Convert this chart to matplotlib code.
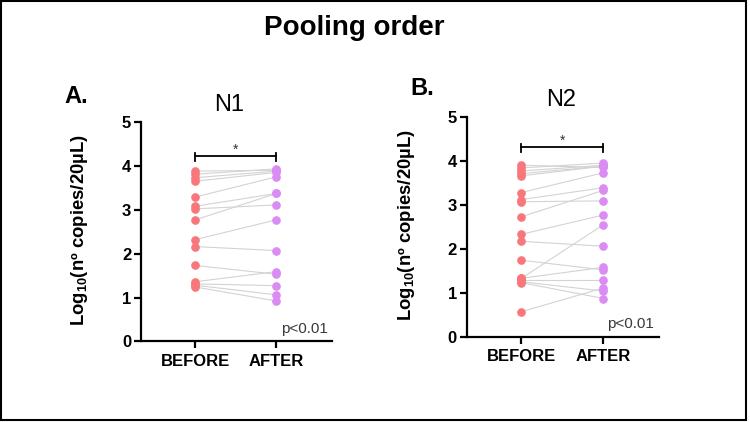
import matplotlib
matplotlib.use("Agg")
import matplotlib.pyplot as plt
from matplotlib.patches import Rectangle

plt.rcParams["font.family"] = ["Liberation Sans", "DejaVu Sans"]
plt.rcParams["mathtext.fontset"] = "custom"
plt.rcParams["mathtext.rm"] = "Liberation Sans:bold"
plt.rcParams["mathtext.bf"] = "Liberation Sans:bold"
plt.rcParams["mathtext.default"] = "bf"

# values (log10 copies / 20 uL)
groups = ["BEFORE", "AFTER"]
n1_before = [3.88, 3.81, 3.73, 3.65, 3.29, 3.08, 3.02, 2.77, 2.32, 2.16, 1.73, 1.36, 1.31, 1.28, 1.24]
n1_after = [3.90, 3.93, 3.88, 3.85, 3.75, 3.37, 3.11, 3.37, 2.77, 2.07, 1.53, 1.59, 1.27, 1.06, 0.92]
n2_before = [3.90, 3.84, 3.77, 3.71, 3.66, 3.28, 3.12, 3.07, 2.73, 2.33, 2.17, 1.74, 1.33, 1.33, 1.28, 1.25, 1.23, 0.57]
n2_after = [3.85, 3.95, 3.90, 3.88, 3.88, 3.73, 3.39, 3.09, 3.33, 2.77, 2.06, 1.52, 2.55, 1.58, 1.28, 1.04, 0.87, 1.11]
y_ticks = [0, 1, 2, 3, 4, 5]
bracket_y = {"N1": 4.23, "N2": 4.32}

c_before = "#F8777B"
c_after = "#DA8BF4"
c_line = "#D3D3D3"

fig = plt.figure(figsize=(7.5, 4.22), dpi=100)
fig.patches.append(Rectangle((0.001, 0.004), 0.993, 0.993, transform=fig.transFigure,
                             fill=False, edgecolor="black", linewidth=1.5))

fig.text(0.473, 0.933, "Pooling order", ha="center", va="center", fontsize=20, fontweight="bold")


def draw_panel(rect, before, after, name, letter, letter_xy, name_xy, ylab_x, p_xy):
    ax = fig.add_axes(rect)
    for b, a in zip(before, after):
        ax.plot([0, 1], [b, a], color=c_line, linewidth=0.8, zorder=1)
    ax.plot([0] * len(before), before, "o", color=c_before, markersize=5.2, zorder=2)
    ax.plot([1] * len(after), after, "o", color=c_after, markersize=5.2, zorder=2)

    ax.set_xlim(-0.67, 1.68)
    ax.set_ylim(0, 5)
    ax.set_yticks(y_ticks)
    ax.set_xticks([0, 1])
    ax.set_xticklabels(groups, fontsize=12, fontweight="bold")
    for lab in ax.get_yticklabels():
        lab.set_fontsize(12)
        lab.set_fontweight("bold")
    for s in ["top", "right"]:
        ax.spines[s].set_visible(False)
    for s in ["left", "bottom"]:
        ax.spines[s].set_linewidth(1.6)
    ax.tick_params(axis="both", width=1.6, length=5, pad=2)
    ax.tick_params(axis="x", pad=4)

    # significance bracket
    yb = bracket_y[name]
    ax.plot([0, 1], [yb, yb], color="black", linewidth=1.3)
    ax.plot([0, 0], [yb - 0.12, yb + 0.07], color="black", linewidth=1.3)
    ax.plot([1, 1], [yb - 0.12, yb + 0.07], color="black", linewidth=1.3)
    ax.text(0.5, yb - 0.02, "*", ha="center", va="bottom", fontsize=10, color="#333333")

    fig.text(p_xy[0], p_xy[1], "p<0.01", ha="center", va="center", fontsize=11, color="#3A3A3A")
    fig.text(name_xy[0], name_xy[1], name, ha="center", va="center", fontsize=17)
    fig.text(letter_xy[0], letter_xy[1], letter, ha="center", va="center", fontsize=17, fontweight="bold")
    fig.text(ylab_x, rect[1] + rect[3] * 0.5 + 0.005, r"Log$_{10}$(nº copies/20µL)", rotation=90,
             ha="center", va="center", fontsize=13.3, fontweight="bold")
    return ax


draw_panel([0.188, 0.191, 0.254, 0.520], n1_before, n1_after, "N1", "A.",
           (0.102, 0.772), (0.305, 0.751), 0.106, (0.406, 0.220))
draw_panel([0.622, 0.202, 0.257, 0.521], n2_before, n2_after, "N2", "B.",
           (0.563, 0.791), (0.748, 0.762), 0.542, (0.840, 0.232))

fig.savefig("out.png", dpi=100)
